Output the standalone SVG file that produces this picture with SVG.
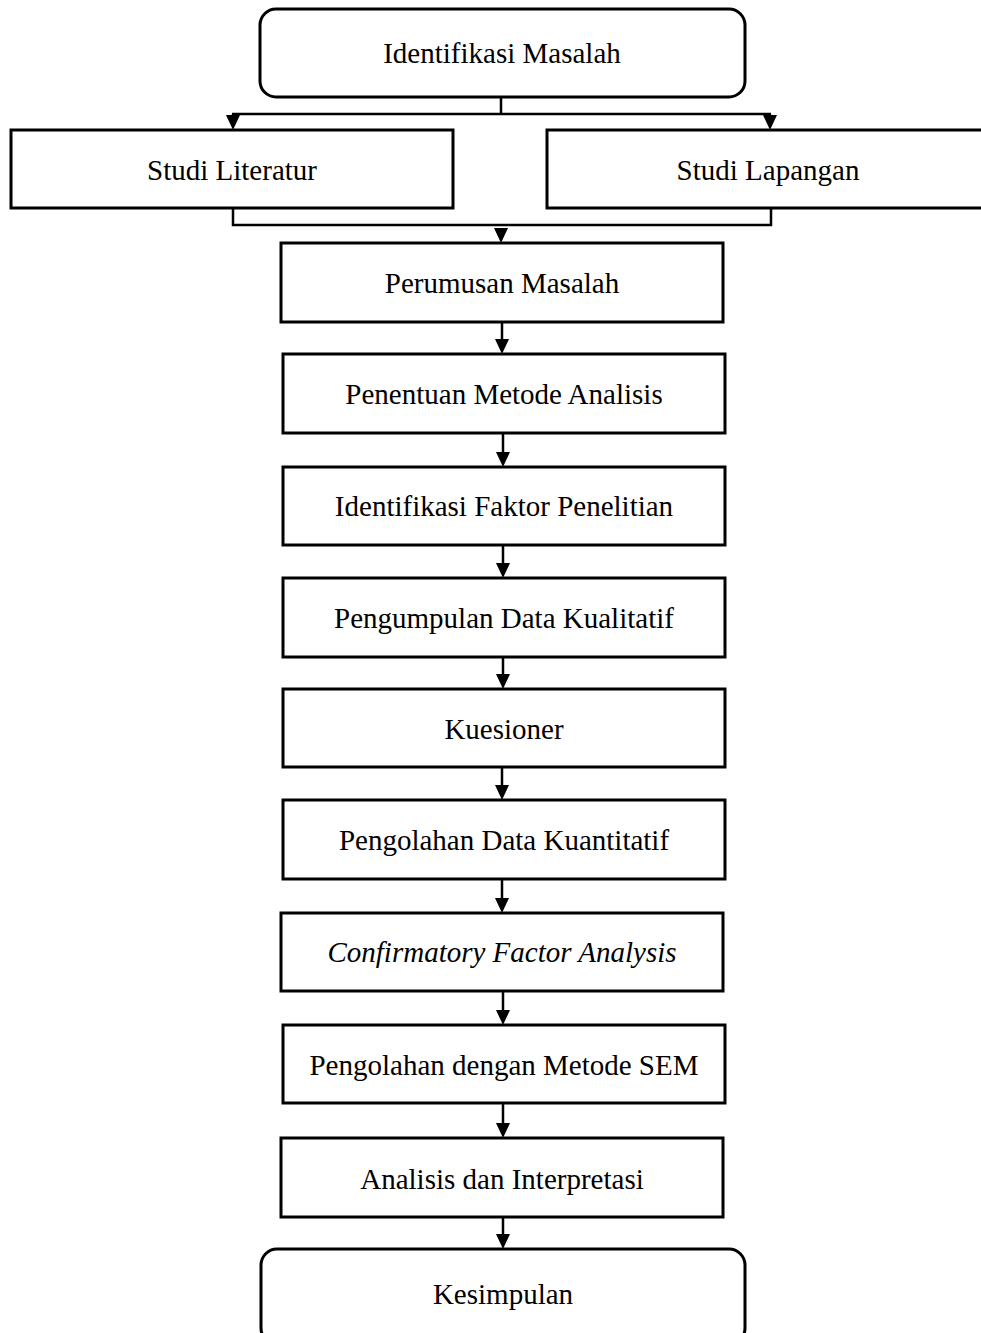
<svg xmlns="http://www.w3.org/2000/svg" width="981" height="1333" viewBox="0 0 981 1333">
<style>
.box{fill:#fff;stroke:#000;stroke-width:3}
.lbl{font-family:"Liberation Serif","Times New Roman",serif;font-size:29px;fill:#000;text-anchor:middle}
.it{font-style:italic}
.con{fill:none;stroke:#000;stroke-width:2.5}
.ah{fill:#000}
</style>
<defs>
<path id="ah" d="M-7,-15 L7,-15 L0,0 z"/>
</defs>
<rect width="981" height="1333" fill="#fff"/>
<g id="connectors">
<path class="con" d="M501,97 V114 M232,114 H771"/>
<path class="con" d="M233,114 V118 M770,114 V118"/>
<use href="#ah" class="ah" x="233" y="130"/>
<use href="#ah" class="ah" x="770" y="130"/>
<path class="con" d="M233,208 V225 H771 V208"/>
<use href="#ah" class="ah" x="501" y="243"/>
<path class="con" d="M502,322 V342"/><use href="#ah" class="ah" x="502" y="354"/>
<path class="con" d="M503,433 V455"/><use href="#ah" class="ah" x="503" y="467"/>
<path class="con" d="M503,545 V566"/><use href="#ah" class="ah" x="503" y="578"/>
<path class="con" d="M503,657 V677"/><use href="#ah" class="ah" x="503" y="689"/>
<path class="con" d="M502,767 V788"/><use href="#ah" class="ah" x="502" y="800"/>
<path class="con" d="M502,879 V901"/><use href="#ah" class="ah" x="502" y="913"/>
<path class="con" d="M503,991 V1013"/><use href="#ah" class="ah" x="503" y="1025"/>
<path class="con" d="M503,1103 V1126"/><use href="#ah" class="ah" x="503" y="1138"/>
<path class="con" d="M503,1217 V1237"/><use href="#ah" class="ah" x="503" y="1249"/>
</g>
<g id="n1"><rect class="box" x="260" y="9" width="485" height="88" rx="16"/><text class="lbl" x="502" y="63">Identifikasi Masalah</text></g>
<g id="n2"><rect class="box" x="11" y="130" width="442" height="78"/><text class="lbl" x="232" y="180">Studi Literatur</text></g>
<g id="n3"><rect class="box" x="547" y="130" width="450" height="78"/><text class="lbl" x="768" y="180">Studi Lapangan</text></g>
<g id="n4"><rect class="box" x="281" y="243" width="442" height="79"/><text class="lbl" x="502" y="293">Perumusan Masalah</text></g>
<g id="n5"><rect class="box" x="283" y="354" width="442" height="79"/><text class="lbl" x="504" y="404">Penentuan Metode Analisis</text></g>
<g id="n6"><rect class="box" x="283" y="467" width="442" height="78"/><text class="lbl" x="504" y="516">Identifikasi Faktor Penelitian</text></g>
<g id="n7"><rect class="box" x="283" y="578" width="442" height="79"/><text class="lbl" x="504" y="628">Pengumpulan Data Kualitatif</text></g>
<g id="n8"><rect class="box" x="283" y="689" width="442" height="78"/><text class="lbl" x="504" y="739">Kuesioner</text></g>
<g id="n9"><rect class="box" x="283" y="800" width="442" height="79"/><text class="lbl" x="504" y="850">Pengolahan Data Kuantitatif</text></g>
<g id="n10"><rect class="box" x="281" y="913" width="442" height="78"/><text class="lbl it" x="502" y="962">Confirmatory Factor Analysis</text></g>
<g id="n11"><rect class="box" x="283" y="1025" width="442" height="78"/><text class="lbl" x="504" y="1075">Pengolahan dengan Metode SEM</text></g>
<g id="n12"><rect class="box" x="281" y="1138" width="442" height="79"/><text class="lbl" x="502" y="1189">Analisis dan Interpretasi</text></g>
<g id="n13"><rect class="box" x="261" y="1249" width="484" height="95" rx="16"/><text class="lbl" x="503" y="1304">Kesimpulan</text></g>
</svg>
